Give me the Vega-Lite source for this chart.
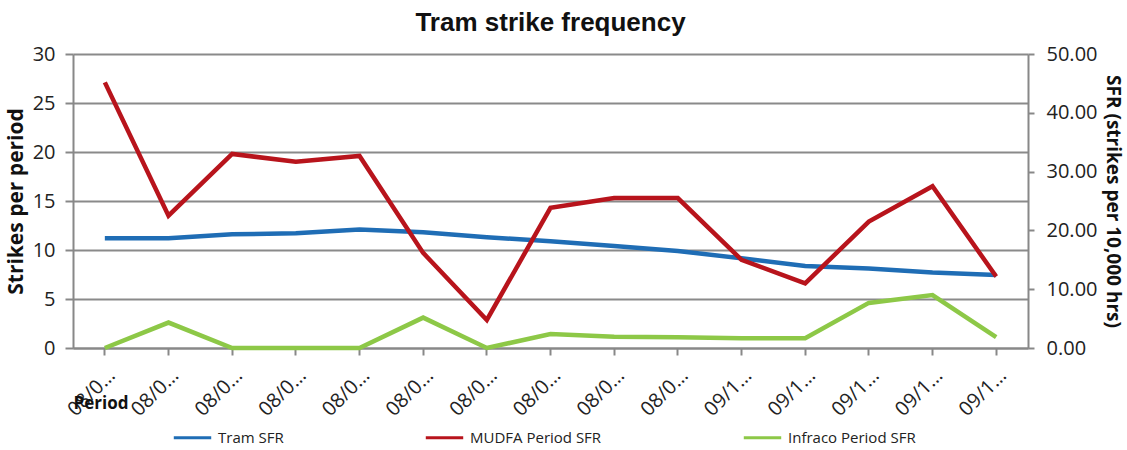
{
  "$schema": "https://vega.github.io/schema/vega-lite/v6.json",
  "width": 955,
  "height": 294,
  "autosize": "none",
  "padding": {"left": 73, "top": 54, "right": 99, "bottom": 102},
  "background": "white",
  "config": {
    "view": {"stroke": null},
    "font": "Open Sans"
  },
  "title": {
    "text": "Tram strike frequency",
    "font": "Liberation Sans",
    "fontSize": 26,
    "fontWeight": "bold",
    "color": "#111",
    "offset": 8
  },
  "data": {
    "values": [
      {"period": "08/09 P01", "series": "Tram SFR", "sfr": 18.67},
      {"period": "08/09 P02", "series": "Tram SFR", "sfr": 18.67},
      {"period": "08/09 P03", "series": "Tram SFR", "sfr": 19.33},
      {"period": "08/09 P04", "series": "Tram SFR", "sfr": 19.5},
      {"period": "08/09 P05", "series": "Tram SFR", "sfr": 20.17},
      {"period": "08/09 P06", "series": "Tram SFR", "sfr": 19.67},
      {"period": "08/09 P07", "series": "Tram SFR", "sfr": 18.83},
      {"period": "08/09 P08", "series": "Tram SFR", "sfr": 18.17},
      {"period": "08/09 P09", "series": "Tram SFR", "sfr": 17.33},
      {"period": "08/09 P10", "series": "Tram SFR", "sfr": 16.5},
      {"period": "09/10 P01", "series": "Tram SFR", "sfr": 15.25},
      {"period": "09/10 P02", "series": "Tram SFR", "sfr": 13.95},
      {"period": "09/10 P03", "series": "Tram SFR", "sfr": 13.5},
      {"period": "09/10 P04", "series": "Tram SFR", "sfr": 12.83},
      {"period": "09/10 P05", "series": "Tram SFR", "sfr": 12.42},
      {"period": "08/09 P01", "series": "MUDFA Period SFR", "sfr": 45.17},
      {"period": "08/09 P02", "series": "MUDFA Period SFR", "sfr": 22.5},
      {"period": "08/09 P03", "series": "MUDFA Period SFR", "sfr": 33.0},
      {"period": "08/09 P04", "series": "MUDFA Period SFR", "sfr": 31.67},
      {"period": "08/09 P05", "series": "MUDFA Period SFR", "sfr": 32.67},
      {"period": "08/09 P06", "series": "MUDFA Period SFR", "sfr": 16.17},
      {"period": "08/09 P07", "series": "MUDFA Period SFR", "sfr": 4.77},
      {"period": "08/09 P08", "series": "MUDFA Period SFR", "sfr": 23.83},
      {"period": "08/09 P09", "series": "MUDFA Period SFR", "sfr": 25.5},
      {"period": "08/09 P10", "series": "MUDFA Period SFR", "sfr": 25.5},
      {"period": "09/10 P01", "series": "MUDFA Period SFR", "sfr": 15.0},
      {"period": "09/10 P02", "series": "MUDFA Period SFR", "sfr": 11.0},
      {"period": "09/10 P03", "series": "MUDFA Period SFR", "sfr": 21.5},
      {"period": "09/10 P04", "series": "MUDFA Period SFR", "sfr": 27.5},
      {"period": "09/10 P05", "series": "MUDFA Period SFR", "sfr": 12.17},
      {"period": "08/09 P01", "series": "Infraco Period SFR", "sfr": 0},
      {"period": "08/09 P02", "series": "Infraco Period SFR", "sfr": 4.33},
      {"period": "08/09 P03", "series": "Infraco Period SFR", "sfr": 0},
      {"period": "08/09 P04", "series": "Infraco Period SFR", "sfr": 0},
      {"period": "08/09 P05", "series": "Infraco Period SFR", "sfr": 0},
      {"period": "08/09 P06", "series": "Infraco Period SFR", "sfr": 5.17},
      {"period": "08/09 P07", "series": "Infraco Period SFR", "sfr": 0},
      {"period": "08/09 P08", "series": "Infraco Period SFR", "sfr": 2.38},
      {"period": "08/09 P09", "series": "Infraco Period SFR", "sfr": 1.92},
      {"period": "08/09 P10", "series": "Infraco Period SFR", "sfr": 1.82},
      {"period": "09/10 P01", "series": "Infraco Period SFR", "sfr": 1.67},
      {"period": "09/10 P02", "series": "Infraco Period SFR", "sfr": 1.67},
      {"period": "09/10 P03", "series": "Infraco Period SFR", "sfr": 7.67},
      {"period": "09/10 P04", "series": "Infraco Period SFR", "sfr": 9.0},
      {"period": "09/10 P05", "series": "Infraco Period SFR", "sfr": 1.83}
    ]
  },
  "layer": [
    {
      "mark": {"type": "tick", "opacity": 0},
      "encoding": {
        "x": {
          "field": "period",
          "type": "nominal",
          "sort": null,
          "scale": {"type": "band", "paddingInner": 0, "paddingOuter": 0},
          "axis": {
            "title": "Period",
            "titleFontSize": 17,
            "titleFontWeight": "bold",
            "titleColor": "#111",
            "titleAnchor": "start",
            "titlePadding": -24,
            "labelExpr": "slice(datum.value, 0, 4) + '…'",
            "labelAngle": -45,
            "labelFontSize": 20,
            "labelColor": "#222",
            "labelPadding": 10,
            "labelOverlap": false,
            "tickSize": 7,
            "tickColor": "#888",
            "tickWidth": 2,
            "domainColor": "#888",
            "domainWidth": 2,
            "grid": false
          }
        },
        "y": {
          "field": "sfr",
          "type": "quantitative",
          "scale": {"domain": [0, 30], "nice": false, "clamp": true},
          "axis": {
            "title": "Strikes per period",
            "titleFontSize": 21,
            "titleFontWeight": "bold",
            "titleColor": "#111",
            "titlePadding": 6,
            "values": [0, 5, 10, 15, 20, 25, 30],
            "labelFontSize": 20,
            "labelColor": "#222",
            "labelPadding": 10,
            "tickSize": 8,
            "tickColor": "#888",
            "tickWidth": 2,
            "domainColor": "#888",
            "domainWidth": 2,
            "grid": true,
            "gridColor": "#8a8a8a",
            "gridWidth": 2
          }
        }
      }
    },
    {
      "mark": {"type": "line", "strokeWidth": 4.5},
      "encoding": {
        "x": {"field": "period", "type": "nominal", "sort": null},
        "y": {
          "field": "sfr",
          "type": "quantitative",
          "scale": {"domain": [0, 50], "nice": false},
          "axis": {
            "orient": "right",
            "title": "SFR (strikes per 10,000 hrs)",
            "titleFontSize": 19,
            "titleFontWeight": "bold",
            "titleColor": "#111",
            "titlePadding": 6,
            "values": [0, 10, 20, 30, 40, 50],
            "format": ".2f",
            "labelFontSize": 20,
            "labelColor": "#222",
            "labelPadding": 12,
            "tickSize": 6,
            "tickColor": "#888",
            "tickWidth": 2,
            "domainColor": "#888",
            "domainWidth": 2,
            "grid": false
          }
        },
        "color": {
          "field": "series",
          "type": "nominal",
          "sort": ["Tram SFR", "MUDFA Period SFR", "Infraco Period SFR"],
          "scale": {
            "domain": ["Tram SFR", "MUDFA Period SFR", "Infraco Period SFR"],
            "range": ["#1f6db5", "#b8141c", "#8dc847"]
          },
          "legend": {
            "title": null,
            "orient": "none",
            "direction": "horizontal",
            "legendX": 99,
            "legendY": 363,
            "symbolType": "stroke",
            "symbolSize": 1400,
            "symbolStrokeWidth": 3,
            "labelFontSize": 15,
            "labelColor": "#222",
            "labelOffset": 5,
            "columnPadding": 135
          }
        }
      }
    }
  ],
  "resolve": {"scale": {"y": "independent"}}
}
